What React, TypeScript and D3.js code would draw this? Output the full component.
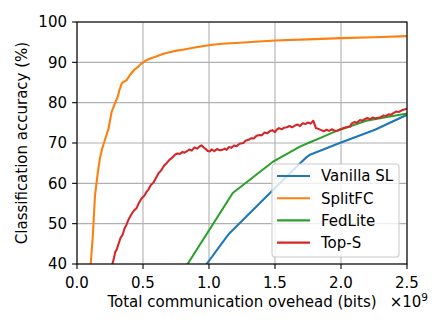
import React from 'react';
import * as d3 from 'd3';

// values (x in units of 1e9 bits, y in %)
const vanillaX = [0.982, 1.146, 1.487, 1.69, 1.74, 1.765, 1.99, 2.258, 2.5];
const vanillaY = [40, 47.3, 58.4, 65.0, 66.5, 67.1, 70.0, 73.3, 77.0];

const splitfcX = [0.104, 0.12, 0.136, 0.155, 0.174, 0.19, 0.212, 0.237, 0.263, 0.29, 0.31, 0.32, 0.339, 0.35, 0.376, 0.4, 0.432, 0.46, 0.48, 0.502, 0.53, 0.56, 0.59, 0.629, 0.66, 0.7, 0.755, 0.8, 0.881, 0.95, 1.008, 1.1, 1.2, 1.35, 1.5, 1.75, 2.0, 2.25, 2.5];
const splitfcY = [40, 47, 56.8, 62, 66.3, 68.5, 70.8, 73.3, 77.8, 80, 81.6, 83, 84.8, 85.1, 85.6, 86.8, 88.1, 88.8, 89.5, 90.0, 90.6, 91.0, 91.3, 91.8, 92.2, 92.5, 92.9, 93.1, 93.6, 94.0, 94.3, 94.6, 94.8, 95.1, 95.4, 95.7, 96.0, 96.2, 96.5];

const fedliteX = [0.838, 1.18, 1.482, 1.689, 1.765, 1.84, 1.967, 2.19, 2.5];
const fedliteY = [40, 57.6, 65.3, 69.1, 70.2, 71.2, 73.0, 75.5, 77.3];

const topsX = [0.268, 0.28, 0.29, 0.3, 0.313, 0.33, 0.345, 0.36, 0.376, 0.39, 0.41, 0.43, 0.452, 0.47, 0.49, 0.51, 0.525, 0.54, 0.56, 0.58, 0.604, 0.62, 0.64, 0.66, 0.679, 0.7, 0.72, 0.742, 0.76, 0.78, 0.8, 0.815, 0.831, 0.85, 0.87, 0.89, 0.91, 0.93, 0.945, 0.96, 0.975, 0.99, 1.008, 1.02, 1.04, 1.06, 1.08, 1.1, 1.12, 1.134, 1.15, 1.17, 1.19, 1.21, 1.23, 1.26, 1.28, 1.3, 1.32, 1.34, 1.36, 1.386, 1.4, 1.42, 1.44, 1.46, 1.48, 1.5, 1.513, 1.53, 1.55, 1.57, 1.59, 1.61, 1.63, 1.65, 1.67, 1.69, 1.71, 1.73, 1.75, 1.77, 1.79, 1.8, 1.81, 1.828, 1.85, 1.87, 1.89, 1.91, 1.93, 1.95, 1.967, 2.0, 2.02, 2.04, 2.07, 2.08, 2.1, 2.12, 2.144, 2.16, 2.18, 2.2, 2.22, 2.24, 2.26, 2.295, 2.32, 2.34, 2.36, 2.38, 2.396, 2.42, 2.44, 2.46, 2.48, 2.5];
const topsY = [40, 41.5, 43, 43.5, 44.8, 46.5, 47.2, 48.8, 49.8, 51, 52.2, 53.2, 53.9, 55.2, 56.3, 56.9, 57.8, 58.4, 59.6, 60.2, 61.7, 62.6, 63.3, 64.4, 65.0, 65.8, 66.3, 67.1, 67.4, 67.3, 67.8, 67.6, 67.9, 68.4, 68.1, 68.9, 68.6, 69.2, 69.4, 68.9, 68.5, 68.0, 67.9, 68.4, 68.0, 68.5, 68.2, 68.3, 68.6, 68.3, 69.0, 68.8, 69.4, 69.2, 69.8, 70.0, 70.6, 70.8, 71.2, 71.1, 71.8, 72.0, 71.9, 72.6, 72.4, 72.9, 73.2, 72.7, 73.3, 73.7, 73.4, 73.8, 73.9, 74.2, 73.9, 74.3, 74.6, 74.2, 74.9, 74.7, 75.1, 74.8, 75.5, 74.6, 73.7, 73.5, 73.2, 72.9, 73.3, 73.0, 73.4, 73.1, 73.0, 73.5, 73.7, 73.9, 74.1, 74.8, 75.2, 75.0, 75.7, 75.5, 75.9, 76.2, 75.9, 76.3, 76.1, 76.3, 76.8, 76.7, 77.1, 77.0, 77.4, 77.8, 77.7, 78.1, 78.3, 78.5];

const seriesNames = ['Vanilla SL', 'SplitFC', 'FedLite', 'Top-S'];
const seriesColors = ['#1f77b4', '#ff7f0e', '#2ca02c', '#d62728'];
const xTicks = [0, 0.5, 1.0, 1.5, 2.0, 2.5];
const yTicks = [40, 50, 60, 70, 80, 90, 100];

const W = 436, H = 327;
const m = { left: 77, right: 29, top: 22, bottom: 63 };
const font = 'DejaVu Sans, sans-serif';
const fs = 15;

export default function App() {
  const x = d3.scaleLinear().domain([0, 2.5]).range([m.left, W - m.right]);
  const y = d3.scaleLinear().domain([40, 100]).range([H - m.bottom, m.top]);

  const series = [
    { xs: vanillaX, ys: vanillaY },
    { xs: splitfcX, ys: splitfcY },
    { xs: fedliteX, ys: fedliteY },
    { xs: topsX, ys: topsY },
  ];
  const line = d3.line<[number, number]>().x(d => x(d[0])).y(d => y(d[1]));

  const x0 = m.left, x1 = W - m.right, y0 = m.top, y1 = H - m.bottom;
  // legend
  const lx = 272, ly = 164, lw = 127, lh = 93;

  return (
    <svg width={W} height={H} style={{ position: 'absolute', left: 0, top: 0 }} fontFamily={font}>
      <rect width={W} height={H} fill="#fff" />
      <defs>
        <clipPath id="plot"><rect x={x0} y={y0} width={x1 - x0} height={y1 - y0} /></clipPath>
      </defs>
      {xTicks.map(t => (
        <line key={'gx' + t} x1={x(t)} x2={x(t)} y1={y0} y2={y1} stroke="#b0b0b0" strokeWidth={1.1} />
      ))}
      {yTicks.map(t => (
        <line key={'gy' + t} x1={x0} x2={x1} y1={y(t)} y2={y(t)} stroke="#b0b0b0" strokeWidth={1.1} />
      ))}
      <g clipPath="url(#plot)">
        {series.map((s, i) => (
          <path key={i} d={line(s.xs.map((v, j) => [v, s.ys[j]] as [number, number])) || ''}
            fill="none" stroke={seriesColors[i]} strokeWidth={2.08} strokeLinejoin="round" strokeLinecap="square" />
        ))}
      </g>
      <rect x={x0} y={y0} width={x1 - x0} height={y1 - y0} fill="none" stroke="#000" strokeWidth={1.1} />
      {xTicks.map(t => (
        <g key={'tx' + t}>
          <line x1={x(t)} x2={x(t)} y1={y1} y2={y1 + 4.9} stroke="#000" strokeWidth={1.1} />
          <text x={x(t)} y={y1 + 23.5} textAnchor="middle" fontSize={fs}>{t.toFixed(1)}</text>
        </g>
      ))}
      {yTicks.map(t => (
        <g key={'ty' + t}>
          <line x1={x0 - 4.9} x2={x0} y1={y(t)} y2={y(t)} stroke="#000" strokeWidth={1.1} />
          <text x={x0 - 10} y={y(t)} dy="0.36em" textAnchor="end" fontSize={fs}>{t}</text>
        </g>
      ))}
      <text x={(x0 + x1) / 2} y={y1 + 42.5} textAnchor="middle" fontSize={fs}>Total communication ovehead (bits)</text>
      <text x={x1 + 21} y={y1 + 42.5} textAnchor="end" fontSize={fs}>×10<tspan dy="-6" fontSize={10.5}>9</tspan></text>
      <text transform={`translate(27,${(y0 + y1) / 2}) rotate(-90)`} textAnchor="middle" fontSize={fs}>Classification accuracy (%)</text>
      <rect x={lx} y={ly} width={lw} height={lh} rx={3} fill="#fff" fillOpacity={0.8} stroke="#cccccc" strokeWidth={1.1} />
      {seriesNames.map((n, i) => (
        <g key={n}>
          <line x1={lx + 5} x2={lx + 38} y1={ly + 12 + i * 22.2} y2={ly + 12 + i * 22.2} stroke={seriesColors[i]} strokeWidth={2.08} />
          <text x={lx + 49} y={ly + 12 + i * 22.2} dy="0.36em" fontSize={fs}>{n}</text>
        </g>
      ))}
    </svg>
  );
}
